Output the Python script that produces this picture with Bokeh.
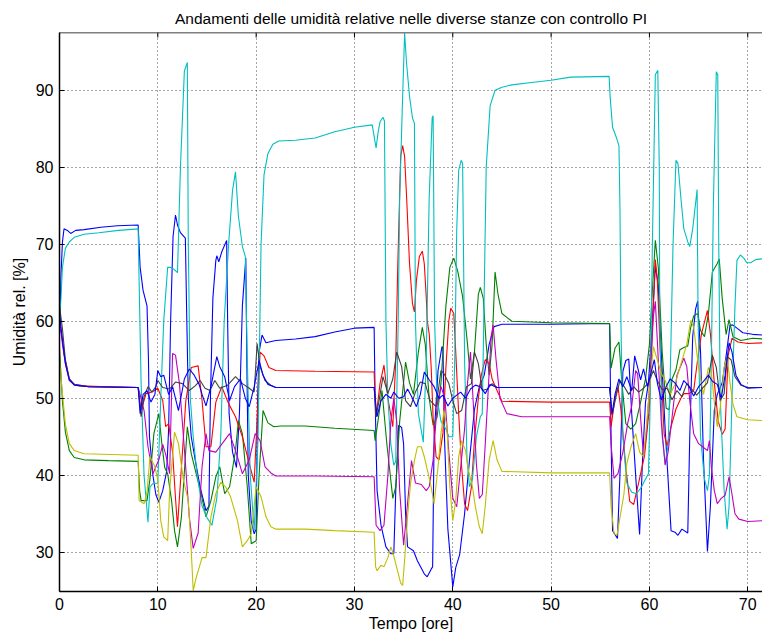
from bokeh.plotting import figure
from bokeh.models import Range1d, FixedTicker, Span
from bokeh.embed import file_html
from bokeh.resources import INLINE

title_text = "Andamenti delle umidità relative nelle diverse stanze con controllo PI"
x_label = "Tempo [ore]"
y_label = "Umidità rel. [%]"
x_ticks = [0, 10, 20, 30, 40, 50, 60, 70]
y_ticks = [30, 40, 50, 60, 70, 80, 90]
x_min, x_max = 0, 71.5
y_min, y_max = 24.9, 97.5

blue1 = [
(0,58),(0.15,66),(0.3,70.3),(0.46,72.0),(0.8,71.8),(1.14,71.4),(1.65,71.8),(2.5,71.9),(4.2,72.2),(5.9,72.4),(8.0,72.5),
(8.2,67),(8.5,64),(8.9,62),(9.05,55),(9.15,45),(9.5,40),(9.8,37.5),(10.1,36.5),(10.5,38),(10.9,40.5),(11.1,46),(11.3,60),(11.55,71),(11.8,73.8),(12.0,72.5),(12.3,71.5),(12.8,70.8),(12.95,60),(13.1,50),(13.4,45),(13.8,42),(14.3,38.5),(14.9,35.4),(15.2,36),(15.35,50),(15.6,63),(15.9,67.9),(16.0,68.5),(16.2,67.7),(16.5,69),(17.0,70.5),(17.1,60),(17.25,48),(17.6,43),(18.0,41),(18.3,48),(18.6,62),(18.95,68.2),(19.05,55),(19.2,40),(19.5,34),(19.8,32.4),(20.0,33),(20.15,50),(20.3,56),(20.6,58.2),(21.0,57.2),(22,57.5),(24,57.7),(26,58),(28,58.6),(30,59.1),(32.0,59.2),
(32.1,50),(32.3,38),(32.7,33.5),(33.2,30.7),(33.7,29.8),(34.0,29.8),(34.2,38),(34.5,46.5),(34.8,46.2),(35.0,44),(35.2,35),(35.4,30.7),(36.0,30.2),(36.4,28.9),(37.1,27.2),(37.4,26.8),(37.8,27.8),(37.95,28.1),(38.1,45),(38.5,53.6),(38.9,56.7),(39.0,56.5),(39.15,45),(39.5,33),(40.0,25.5),(40.3,28),(40.7,29.7),(41.2,35),(41.7,42),(42.2,48.5),(42.7,51.5),(43.2,53),(43.7,57),(44.2,59.3),(45,59.6),(50,59.6),(55.95,59.7),
(56.1,45),(56.25,32.8),(56.75,31.8),(57.0,40),(57.3,53.5),(57.6,54.9),(57.9,55.1),(58.2,48),(58.7,38),(59.0,32.3),(59.3,42),(59.6,49.5),(59.9,52),(60.3,60),(60.6,67.2),(60.9,64.6),(61.2,56),(61.6,46),(62.2,32.8),(62.6,32.6),(62.9,32.2),(63.3,33),(63.9,32.5),(64.1,45),(64.4,58),(64.7,61.6),(64.9,62.6),(65.2,56),(65.5,42),(65.9,30.1),(66.2,36),(66.6,48.5),(66.9,50.5),(67.4,52),(67.8,55.5),(68.2,59.5),(68.5,59.5),(69,59),(69.5,58.5),(70.5,58.3),(71.5,58.2)]

green = [
(0,56.5),(0.3,49.6),(0.6,45.6),(1.0,43.2),(1.5,42.3),(2.5,42.0),(5,41.9),(8.0,41.8),
(8.15,38),(8.3,36.7),(8.9,36.7),(9.2,39.5),(9.6,45.4),(10.1,48),(10.4,44.2),(10.7,41),(11.0,40.2),(11.4,36.7),(11.7,32.8),(12.0,30.7),(12.4,34.6),(13.0,46.3),(13.4,42.8),(13.9,40.2),(14.4,37.6),(14.9,34.6),(15.4,36.7),(15.9,39.8),(16.3,41.1),(16.8,37.6),(17.3,38.5),(17.9,43.2),(18.2,47.1),(18.6,45.4),(19.1,38.5),(19.5,31.1),(20.0,31.5),(20.3,40),(20.7,48.4),(21.2,46.8),(21.8,46.3),(22.5,46.4),(25,46.4),(28,46.1),(32.0,45.8),
(32.1,44.5),(32.5,48),(32.8,51),(33.3,44),(33.9,37),(34.2,38.5),(34.6,47),(35.2,54.7),(35.6,52),(36.0,50.5),(36.5,56),(36.9,59.2),(37.2,57),(37.6,50),(38.0,46.5),(38.4,47.5),(38.8,52),(39.3,62),(39.7,67),(40.1,68.2),(40.5,66.5),(41.0,63.2),(41.5,57),(41.8,52.5),(42.2,56),(42.6,63.5),(42.8,64.4),(43.1,63),(43.4,57),(43.7,53),(44.0,57),(44.3,66.4),(44.6,63.5),(45.0,61),(46,60),(50,59.8),(55.95,59.7),
(56.1,53.9),(56.5,56.5),(56.9,57.3),(57.2,52),(57.6,46.7),(58.1,46),(58.6,46.7),(59.1,49.5),(59.6,52.5),(60.0,57),(60.3,64),(60.6,70.5),(60.9,67),(61.3,56),(61.7,48.7),(62.0,48.5),(62.3,52.5),(62.7,53.7),(63.1,56.3),(63.5,56.6),(63.9,56.8),(64.2,59.2),(64.5,60.7),(64.9,61),(65.2,58.8),(65.6,58),(66.0,61),(66.4,66.4),(66.9,67.5),(67.1,68.1),(67.4,63),(67.8,58.3),(68.1,60.2),(68.5,58),(69.3,57.5),(70.5,57.8),(71.5,57.7)]

red = [
(0,59),(0.2,58.5),(0.5,55.5),(1.0,52.5),(1.5,51.8),(2,51.6),(5,51.5),(8.0,51.4),
(8.3,48.4),(8.8,50.6),(9.4,50.8),(10.0,51.3),(10.5,49.7),(10.8,46.3),(11.1,46.7),(11.5,43),(11.8,37),(12.0,33.3),(12.4,41),(12.85,49.7),(13.4,54),(14.1,54.2),(14.5,49.7),(14.9,43.7),(15.4,43.7),(15.9,49.5),(16.5,51.5),(17.2,49.3),(17.9,47.6),(18.6,45),(19.3,41.5),(19.8,39.1),(20.2,50),(20.4,56),(20.8,55.5),(21.3,54),(22,53.6),(26,53.5),(32.0,53.4),
(32.1,50),(32.2,47.6),(32.6,51.9),(33.0,54.3),(33.4,50),(33.9,46.3),(34.2,55),(34.4,67),(34.7,81.4),(34.9,82.8),(35.1,81.4),(35.3,76.2),(35.6,67.5),(35.9,62.3),(36.1,61.2),(36.3,65.3),(36.6,68.4),(36.9,69.1),(37.1,67.5),(37.3,63.2),(37.4,60.1),(37.6,58.4),(37.8,54.1),(38.0,47.5),(38.3,42.4),(38.6,42),(39.0,45.5),(39.3,54),(39.6,60.1),(39.8,61.7),(40.1,61),(40.3,56),(40.6,48),(40.9,41.1),(41.2,36.3),(41.5,35.4),(41.9,38.5),(42.2,44.5),(42.6,50),(42.9,53),(43.3,55),(43.7,54.5),(44.0,52.5),(44.5,51),(45,49.6),(50,49.5),(55.95,49.5),
(56.1,46.3),(56.5,50),(56.8,51.5),(57.1,48.5),(57.6,41),(58.0,36.6),(58.4,36.2),(58.9,39),(59.5,42.5),(60.0,48.8),(60.3,59),(60.6,68),(60.8,65.5),(61.1,56),(61.5,45.3),(61.8,43.8),(62.2,46.3),(62.7,48.6),(63.2,50),(63.5,50.6),(64.0,50.6),(64.5,51),(64.9,55),(65.3,58.4),(65.9,61.4),(66.2,58.4),(66.6,52),(67.0,47),(67.4,45.3),(67.7,46),(68.0,55.5),(68.4,57.8),(69.0,57.3),(70.0,57.1),(71.5,57.2)]

cyan = [
(0,60),(0.15,63),(0.3,67),(0.6,69.5),(1.0,70.3),(1.5,70.9),(2.5,71.3),(4,71.5),(6,71.8),(8.0,72.0),
(8.1,65),(8.3,52),(8.6,40),(9.0,33.9),(9.2,38.5),(9.5,38.9),(10.0,39),(10.3,50),(10.6,60),(11.0,67),(11.3,67),(11.6,66.8),(12.0,66.3),(12.3,80),(12.7,92.5),(13.0,93.6),(13.1,70),(13.3,50),(13.6,45),(14.0,40),(14.5,36),(15.0,34.5),(15.5,33.5),(16.0,37),(16.4,45),(16.75,60),(17.2,70),(17.6,77),(17.9,79.4),(18.2,73.6),(18.6,69.7),(18.9,68.4),(19.1,55),(19.4,40),(19.8,32.8),(20.2,45),(20.5,70),(20.8,79),(21.2,81.8),(21.7,83),(22.3,83.4),(24,83.5),(26,83.8),(28,84.6),(30,85.2),(31.8,85.5),
(32.0,84),(32.2,82.5),(32.4,84.5),(32.6,85.9),(32.9,86.5),(33.05,86),(33.2,60),(33.4,50),(33.7,44),(34.0,41.3),(34.2,41.8),(34.3,50),(34.45,60),(34.6,76.2),(34.9,89.2),(35.1,97.4),(35.3,93.5),(35.6,89.2),(35.9,86.4),(36.1,85.7),(36.2,60),(36.5,48),(37.0,44.3),(37.3,55),(37.6,76),(37.9,86.4),(38.0,86.7),(38.15,60),(38.4,50),(38.8,47),(39.3,46),(39.6,45),(40.0,45),(40.2,55),(40.4,71.8),(40.6,79.6),(40.85,80.9),(41.0,80.5),(41.2,55),(41.45,42),(41.7,38.5),(42.0,39.5),(42.4,45),(42.8,47.6),(43.0,48),(43.15,60),(43.4,80),(43.8,88),(44.3,90),(45,90.4),(46,90.7),(48,91),(50,91.3),(52,91.7),(55.9,91.8),
(56.0,89.2),(56.25,85.2),(56.6,84),(56.9,82.8),(57.0,75),(57.1,60),(57.3,45),(57.7,39),(58.2,37.8),(58.7,37.6),(59.2,38.5),(59.6,39.5),(59.9,40.2),(60.05,48),(60.3,70),(60.6,92),(60.85,92.6),(61.0,80),(61.05,60),(61.3,45),(61.6,41.5),(61.9,44),(62.1,52),(62.4,70),(62.7,80.9),(62.9,80.5),(63.2,76),(63.5,72),(63.9,70.3),(64.1,69.7),(64.4,72),(64.85,77.1),(64.95,60),(65.2,45),(65.6,39.5),(65.9,38),(66.1,40),(66.3,55),(66.5,75),(66.8,92.4),(66.95,92),(67.05,70),(67.2,50),(67.6,38),(67.9,33),(68.1,36),(68.4,50),(68.7,62),(68.9,67.9),(69.25,68.6),(69.6,68.2),(69.9,67.6),(70.3,67.6),(70.8,68),(71.5,68.1)]

magenta = [
(0,60.5),(0.3,57),(0.6,54.5),(1.0,52.3),(1.5,51.8),(3,51.5),(8.0,51.4),
(8.3,50),(8.6,48.4),(9.0,43.7),(9.5,40.2),(10.1,42),(10.5,44),(10.8,42.7),(11.2,40.2),(11.5,55.8),(11.8,55.6),(12.2,51.9),(12.7,43.4),(13.2,34.6),(13.6,30.5),(14.1,32.5),(14.5,41.1),(14.9,45.4),(15.2,43.2),(15.9,43),(16.6,44.2),(17.3,45.4),(18.0,42.8),(18.6,40.2),(19.3,42),(19.9,45.4),(20.4,44.5),(20.9,41.1),(21.5,40.3),(22,39.9),(26,39.9),(32.0,39.8),
(32.2,33.5),(32.6,32.8),(33.0,33.5),(33.4,40),(33.7,47),(34.0,50),(34.3,47),(34.6,38),(35.0,30.9),(35.3,35),(35.8,41.9),(36.2,39),(36.8,38.8),(37.3,38),(37.6,38.5),(38.0,42),(38.4,49),(38.8,51.5),(39.2,50),(39.6,43),(40.0,37),(40.4,35.9),(40.8,41),(41.2,46),(41.5,52),(41.8,56),(42.1,49),(42.4,41.5),(42.7,37),(43.0,37.5),(43.3,44),(43.6,51),(43.9,58),(44.1,59.5),(44.4,55),(44.8,50),(45.5,48),(47,47.6),(55.95,47.6),
(56.1,44),(56.4,39.6),(56.8,40.2),(57.3,43),(57.8,46.8),(58.2,49),(58.6,53.6),(58.8,53.2),(59.1,47.5),(59.4,42.4),(59.7,45.5),(60.1,53.5),(60.4,60.6),(60.6,62.6),(60.9,55),(61.2,47),(61.6,41.3),(61.9,43),(62.3,47.5),(62.8,53),(63.5,55.2),(63.8,54.1),(64.1,49.7),(64.5,45.4),(65.0,44.1),(65.5,43.6),(65.9,43.2),(66.1,44.5),(66.3,41),(66.6,38),(66.9,36.3),(67.3,37),(67.7,37.4),(68.1,39.8),(68.4,37.5),(68.7,35),(69.1,34.3),(70.0,34),(71.5,34.1)]

yellow = [
(0,55),(0.3,50.6),(0.6,46.6),(1.0,44.1),(1.5,43.2),(2.5,42.8),(8.0,42.6),
(8.1,36.7),(8.6,36.3),(8.9,37.8),(9.2,42.4),(9.7,41.1),(10.0,39.4),(10.3,34.1),(10.6,32),(11.0,31.5),(11.2,38),(11.7,45.6),(12.1,44.1),(12.6,39.4),(13.1,36.7),(13.4,30.2),(13.6,25.0),(13.9,26.7),(14.5,29.3),(14.9,29.3),(15.4,34.6),(15.9,37.6),(16.4,39.1),(16.9,38.5),(17.4,37.2),(18.1,34.1),(18.6,30.7),(19.1,31.5),(19.5,32.4),(20.0,38.5),(20.5,37.2),(21.0,34.6),(21.5,33.3),(22,33),(25,33),(28,32.8),(32.0,32.6),
(32.15,28.1),(32.3,27.6),(32.7,28.3),(33.0,28.1),(33.4,29.3),(33.7,30.7),(33.9,30),(34.3,28),(34.7,26),(34.9,25.7),(35.1,29),(35.4,34.6),(35.7,38.9),(36.1,41.9),(36.4,43.7),(36.8,43.7),(37.1,42.4),(37.5,40.2),(37.8,38.5),(38.1,36.3),(38.5,41.1),(38.8,45.4),(39.1,48.4),(39.4,46.3),(39.7,38.5),(40.0,34.1),(40.3,36.7),(40.6,42.4),(40.9,44.5),(41.3,43.2),(41.6,40.6),(42.0,38.5),(42.3,35.9),(42.7,33.3),(43.0,32.4),(43.3,36),(43.7,42),(44.1,44.5),(44.5,42),(45,40.5),(50,40.3),(55.95,40.3),
(56.1,36),(56.4,32.4),(56.7,32.2),(57.0,34.5),(57.4,37.5),(57.7,41.5),(58.1,43.6),(58.6,45.4),(59.0,43),(59.4,42.4),(59.7,46.5),(60.0,51),(60.4,56.7),(60.8,55),(61.2,53.2),(61.6,52.3),(62.1,50.5),(62.6,51.8),(63.1,54),(63.8,57),(64.2,60.1),(64.5,59.2),(65.0,54),(65.5,50.5),(66.0,54),(66.3,53.3),(66.6,49.5),(66.9,46.3),(67.2,48.8),(67.6,54),(67.9,55.5),(68.2,52),(68.5,49.2),(68.9,47.6),(70,47.2),(71.5,47.1)]

black = [
(0,62),(0.3,59),(0.6,55),(1.0,52.5),(1.5,51.8),(3,51.5),(8.0,51.4),
(8.3,47.6),(8.6,50.2),(9.0,51.5),(9.4,50.8),(9.8,51.5),(10.0,52.3),(10.5,51.4),(11.2,51.2),(11.8,52.1),(12.5,51.9),(13.2,51),(13.8,51.6),(14.3,52.3),(14.8,51.3),(15.3,51),(15.8,52.3),(16.3,51.3),(17.1,51.7),(17.9,52.8),(18.6,51.9),(19.3,51.3),(19.8,50.8),(20.1,57.1),(20.4,54.1),(20.9,52.3),(21.5,51.7),(22,51.4),(32.0,51.4),
(32.2,47.6),(32.5,49.7),(32.9,52.8),(33.4,50.6),(33.9,52.5),(34.3,56),(34.8,54.1),(35.2,49.7),(35.7,48.9),(36.2,50.8),(36.7,52.1),(37.2,51.9),(37.7,49.7),(38.3,48.9),(38.8,53.6),(39.1,53.2),(39.6,51.9),(40.0,49.7),(40.4,48),(40.9,48.4),(41.4,51.5),(41.9,51.9),(42.2,56),(42.6,54.5),(43.0,51),(43.5,51.2),(44,51.9),(44.5,51.4),(55.95,51.4),
(56.2,47.8),(56.6,50.2),(57.0,52.3),(57.4,51.6),(57.9,50.5),(58.4,51.5),(58.9,50.8),(59.4,51.3),(59.9,52),(60.4,53.6),(60.8,52.3),(61.3,51.1),(61.8,51.3),(62.3,49.8),(62.8,51),(63.3,50.2),(63.8,51.9),(64.3,51.2),(64.8,50.4),(65.4,51.3),(65.9,52),(66.4,55.6),(66.8,54),(67.2,49.7),(67.6,50.6),(67.9,55.4),(68.3,55),(68.7,52.8),(69.3,51.7),(70,51.4),(71.5,51.4)]

blue2 = [
(0,61),(0.3,57.5),(0.6,54.5),(1.0,52.4),(1.5,51.7),(3,51.5),(8.0,51.4),
(8.2,48),(8.5,50.5),(8.9,51),(9.3,49.5),(9.7,50.5),(10.0,53.6),(10.3,52.8),(10.6,53),(11.1,50.5),(11.5,51.5),(12.1,48.4),(12.7,52.5),(13.2,53.8),(13.7,53),(14.2,51.8),(14.5,50.5),(14.9,49),(15.4,51.5),(16.0,55.4),(16.3,54.1),(16.8,52.8),(17.3,49.7),(17.8,51.5),(18.4,52.5),(18.9,50),(19.3,48.9),(19.8,51.5),(20.3,54.9),(20.7,53),(21.2,51.8),(22,51.4),(32.0,51.4),
(32.3,47.6),(32.7,49.7),(33.2,50.5),(33.7,50),(34.0,50.8),(34.5,50),(35.0,50.2),(35.4,51.2),(35.9,50),(36.3,48.9),(36.7,50.5),(37.1,53.4),(37.6,52.4),(38.1,51.5),(38.6,50),(39.0,50.4),(39.5,49),(40.0,50),(40.4,50.4),(40.8,50.8),(41.3,50),(41.8,51.2),(42.3,51.7),(42.8,51.5),(43.3,50.6),(43.8,51.8),(44.5,51.4),(55.95,51.4),
(56.2,48),(56.5,50.5),(56.9,52.5),(57.3,51.5),(57.7,52.8),(58.2,51),(58.5,55.5),(58.8,54),(59.1,52.4),(59.4,53.8),(59.8,51.5),(60.2,53.5),(60.5,55),(60.8,52),(61.2,49.8),(61.7,51.5),(62.1,52.5),(62.6,52),(63.1,51),(63.5,52.3),(64.0,51.6),(64.5,50.3),(65.0,51.5),(65.5,52.2),(66.0,53),(66.4,52.2),(66.9,51.8),(67.3,50),(67.7,53),(68.1,57.2),(68.4,56),(68.8,53),(69.3,51.8),(70,51.3),(71.5,51.4)]

series = [
    (blue1, "#0000ff"),
    (green, "#008000"),
    (red, "#ff0000"),
    (cyan, "#00bfbf"),
    (magenta, "#bf00bf"),
    (yellow, "#bfbf00"),
    (black, "#404040"),
    (blue2, "#0000ff"),
]

FONT = "Liberation Sans"
FS = "16px"

p = figure(width=762, height=638, output_backend="svg", toolbar_location=None,
           x_range=Range1d(x_min, x_max), y_range=Range1d(y_min, y_max),
           min_border_left=59, min_border_right=0, min_border_top=32, min_border_bottom=47,
           title=title_text)
p.background_fill_color = "white"
p.border_fill_color = "white"
p.outline_line_color = None

p.title.text_font = FONT
p.title.text_font_size = "15.5px"
p.title.text_font_style = "normal"
p.title.align = "center"
p.title.text_color = "black"
p.title.standoff = 11

for ax, ticks in ((p.xaxis, x_ticks), (p.yaxis, y_ticks)):
    ax.ticker = FixedTicker(ticks=ticks)
    ax.major_tick_in = 5
    ax.major_tick_out = 0
    ax.minor_tick_line_color = None
    ax.axis_line_width = 1.5
    ax.axis_line_color = "black"
    ax.major_tick_line_color = "black"
    ax.major_label_text_font = FONT
    ax.major_label_text_font_size = FS
    ax.major_label_text_color = "black"
    ax.axis_label_text_font = FONT
    ax.axis_label_text_font_size = FS
    ax.axis_label_text_font_style = "normal"
    ax.axis_label_text_color = "black"

p.xaxis.axis_label = x_label
p.yaxis.axis_label = y_label
p.xaxis.major_label_standoff = 6
p.xaxis.axis_label_standoff = 2
p.yaxis.major_label_standoff = 6
p.yaxis.axis_label_standoff = 5

# top border with inward ticks (MATLAB box)
p.add_layout(Span(location=y_max, dimension="width", line_color="black", line_width=1.5))
tick_len = (y_max - y_min) * 5.0 / 559.0
p.segment(x0=x_ticks, y0=[y_max] * len(x_ticks), x1=x_ticks,
          y1=[y_max - tick_len] * len(x_ticks), line_color="black", line_width=1)

for g in (p.xgrid, p.ygrid):
    g.grid_line_color = "#222222"
    g.grid_line_dash = "1 3"
    g.grid_line_width = 1
    g.grid_line_alpha = 0.8
p.xgrid.ticker = FixedTicker(ticks=x_ticks)
p.ygrid.ticker = FixedTicker(ticks=y_ticks)

for pts, col in series:
    xs = [a for a, b in pts]
    ys = [b for a, b in pts]
    p.line(xs, ys, line_color=col, line_width=1.1)

open("out.html", "w").write(file_html(p, INLINE))
